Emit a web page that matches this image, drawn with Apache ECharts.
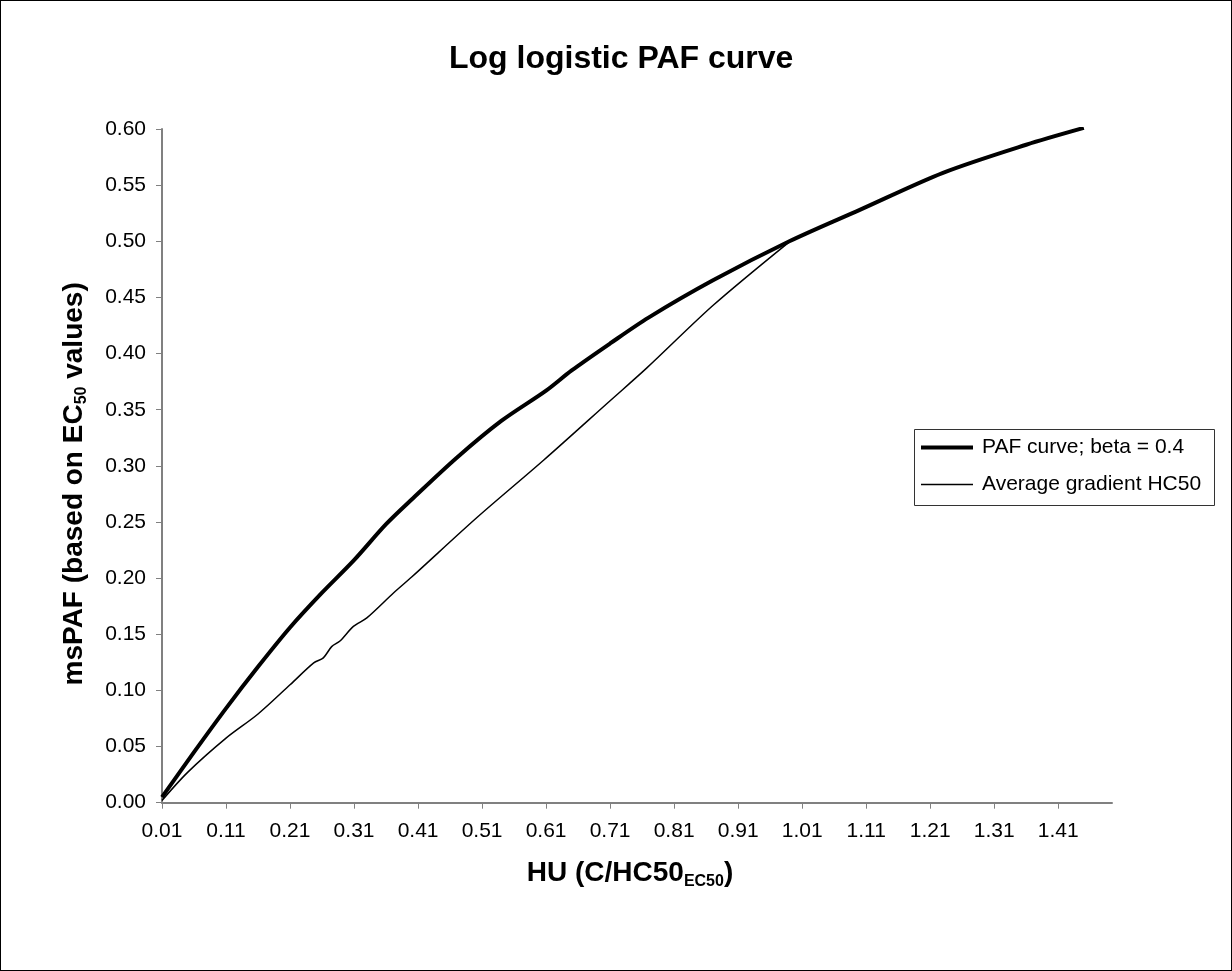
<!DOCTYPE html>
<html><head><meta charset="utf-8">
<script src="https://cdn.jsdelivr.net/npm/echarts@6/dist/echarts.min.js"></script>
<style>
html,body{margin:0;padding:0;background:#fff;}
#wrap{width:1232px;height:971px;box-sizing:border-box;border:1px solid #000;}
#chart{width:1230px;height:969px;}
</style></head><body><div id="wrap"><div id="chart"></div></div>
<script>
// PAF curve (beta = 0.4): HU values and msPAF values
const pafHU  = [0.01, 0.06, 0.11, 0.16, 0.21, 0.26, 0.31, 0.36, 0.40, 0.47, 0.54, 0.61, 0.65, 0.71, 0.77, 0.87, 0.99, 1.10, 1.23, 1.36, 1.45];
const pafVal = [0.005, 0.045, 0.084, 0.121, 0.156, 0.187, 0.216, 0.248, 0.270, 0.307, 0.340, 0.367, 0.385, 0.409, 0.432, 0.465, 0.500, 0.528, 0.561, 0.586, 0.601];
// Average gradient HC50 line
const avgHU  = [0.01, 0.05, 0.11, 0.16, 0.21, 0.247, 0.262, 0.275, 0.288, 0.309, 0.33, 0.372, 0.40, 0.502, 0.606, 0.71, 0.767, 0.871, 0.99];
const avgVal = [0.002, 0.027, 0.0575, 0.079, 0.105, 0.1245, 0.129, 0.139, 0.144, 0.157, 0.1646, 0.187, 0.201, 0.254, 0.305, 0.358, 0.387, 0.443, 0.4995];
// x-axis tick labels
const xTickLabels = [0.01, 0.11, 0.21, 0.31, 0.41, 0.51, 0.61, 0.71, 0.81, 0.91, 1.01, 1.11, 1.21, 1.31, 1.41];
const seriesNames = ['PAF curve; beta = 0.4', 'Average gradient HC50'];

const FONT = 'Liberation Sans, Arial, Helvetica, sans-serif';
const chart = echarts.init(document.getElementById('chart'), null, {renderer: 'canvas'});
const axisGray = '#808080';
const subStyle = {fontSize: 16, fontWeight: 'bold', fontFamily: FONT, color: '#000', padding: [16, 0, 0, 0]};

chart.setOption({
  animation: false,
  backgroundColor: '#fff',
  title: {
    text: 'Log logistic PAF curve',
    left: 448, top: 42, padding: 0,
    textStyle: {fontSize: 32, fontWeight: 'bold', fontFamily: FONT, color: '#000'}
  },
  grid: {left: 161, top: 128, width: 950, height: 673.7, containLabel: false},
  xAxis: {
    type: 'value', min: 0.01, max: 1.494,
    name: 'HU (C/HC50{sub|EC50})',
    nameLocation: 'middle', nameGap: 55,
    nameTextStyle: {fontSize: 28, fontWeight: 'bold', fontFamily: FONT, color: '#000',
      padding: [0, 14, 0, 0],
      rich: {sub: subStyle}},
    axisLine: {show: true, lineStyle: {color: axisGray, width: 2}},
    axisTick: {show: true, inside: false, length: 6, customValues: xTickLabels, lineStyle: {color: axisGray, width: 1}},
    axisLabel: {show: true, customValues: xTickLabels, margin: 18, fontSize: 21, fontFamily: FONT, color: '#000',
      formatter: v => Number(v).toFixed(2)},
    splitLine: {show: false}
  },
  yAxis: {
    type: 'value', min: 0, max: 0.6, interval: 0.05,
    name: 'msPAF (based on EC{sub|50} values)',
    nameLocation: 'middle', nameGap: 72,
    nameTextStyle: {fontSize: 28, fontWeight: 'bold', fontFamily: FONT, color: '#000',
      padding: [0, 36, 0, 0],
      rich: {sub: subStyle}},
    axisLine: {show: true, lineStyle: {color: axisGray, width: 2}},
    axisTick: {show: true, inside: false, length: 6, lineStyle: {color: axisGray, width: 1}},
    axisLabel: {margin: 16, fontSize: 21, fontFamily: FONT, color: '#000',
      formatter: v => Number(v).toFixed(2)},
    splitLine: {show: false}
  },
  legend: [
    {
      data: [{name: seriesNames[0], icon: 'rect'}],
      left: 920, top: 436, padding: 0, itemWidth: 52, itemHeight: 4,
      selectedMode: false,
      itemStyle: {borderWidth: 0},
      textStyle: {fontSize: 21, fontFamily: FONT, color: '#000', padding: [0, 0, 0, 4]}
    },
    {
      data: [{name: seriesNames[1], icon: 'rect'}],
      left: 920, top: 473, padding: 0, itemWidth: 52, itemHeight: 1.5,
      selectedMode: false,
      itemStyle: {borderWidth: 0},
      textStyle: {fontSize: 21, fontFamily: FONT, color: '#000', padding: [0, 0, 0, 4]}
    }
  ],
  graphic: [{
    type: 'rect', left: 913, top: 428, z: 0,
    shape: {width: 300, height: 76},
    style: {fill: '#fff', stroke: '#333', lineWidth: 1}
  }],
  series: [
    {
      name: seriesNames[0], type: 'line', symbol: 'none', smooth: 0.3, clip: true,
      color: '#000', lineStyle: {color: '#000', width: 4},
      data: pafHU.map((h, i) => [h, pafVal[i]])
    },
    {
      name: seriesNames[1], type: 'line', symbol: 'none', smooth: 0.3, clip: true,
      color: '#000', lineStyle: {color: '#000', width: 1.5},
      data: avgHU.map((h, i) => [h, avgVal[i]])
    }
  ]
});
</script>
</body></html>
